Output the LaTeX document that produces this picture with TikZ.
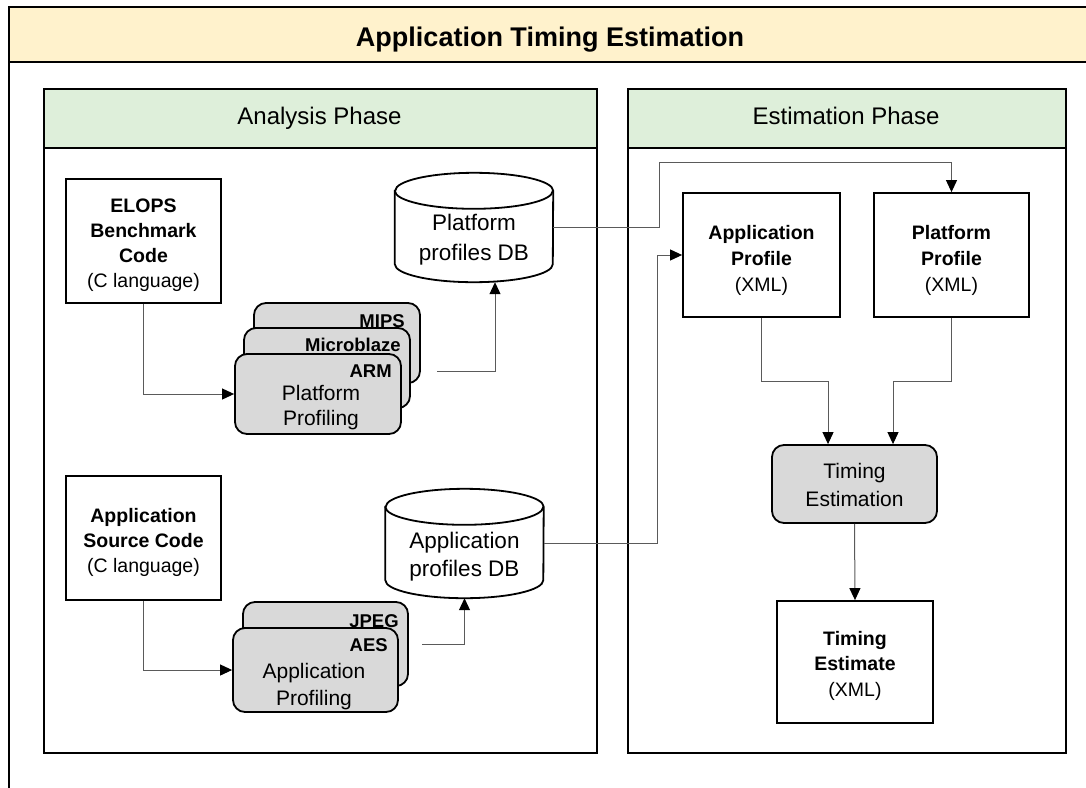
\documentclass[tikz,border=0pt]{standalone}
\usepackage{fontspec}
\setmainfont{Liberation Sans}
\usetikzlibrary{arrows.meta,calc}
\definecolor{bannerfill}{HTML}{FFF2CC}
\definecolor{hdrfill}{HTML}{DEEFDA}
\definecolor{procfill}{HTML}{D9D9D9}
\definecolor{wirecol}{HTML}{5A5A5A}
\newcommand\dbcylinder[1]{%
  \draw[line width=1.8pt, fill=white]
    ($(#1.north west)+(0,18)$) -- ($(#1.south west)+(0,-18)$)
    arc[start angle=180, end angle=0, x radius=79, y radius=18]
    -- ($(#1.north east)+(0,18)$)
    arc[start angle=0, end angle=-180, x radius=79, y radius=18] -- cycle;
  \draw[line width=1.8pt]
    ($(#1.north west)+(0,18)$)
    arc[start angle=180, end angle=0, x radius=79, y radius=18];
}
\begin{document}
\begin{tikzpicture}[x=1pt,y=-1pt,
  panel/.style={draw=black, line width=2pt, fill=white, inner sep=0pt, anchor=north west},
  hdr/.style={draw=black, line width=2pt, fill=hdrfill, inner sep=0pt, anchor=north west,
    minimum height=59pt},
  hdrtxt/.style={inner sep=0pt, anchor=base, font=\fontsize{24}{28}\selectfont},
  box/.style={draw=black, line width=1.8pt, fill=white, inner sep=0pt, align=center},
  procbox/.style={box, fill=procfill, rounded corners=12pt},
  lbl/.style={inner sep=0pt, align=center},
  tag/.style={inner sep=0pt, anchor=east, font=\fontsize{18.5}{22}\selectfont\bfseries},
  dbslot/.style={inner sep=0pt, minimum width=158pt, minimum height=109pt},
  wire/.style={draw=wirecol, line width=1pt, -{Triangle[length=12pt, width=11pt, color=black]}},
]
\useasboundingbox (0,0) rectangle (1086,787);

% banner
\fill[bannerfill] (9,7) rectangle (1090,62);
\draw[line width=2pt] (1090,7) -- (9,7) -- (9,792);
\draw[line width=2pt] (9,62) -- (1090,62);
\node[inner sep=0pt, anchor=base, font=\fontsize{27}{32}\selectfont\bfseries] (title) at (550,46) {Application Timing Estimation};

% panels
\node[panel, minimum width=553pt, minimum height=664pt] (ana) at (43,88) {};
\node[hdr, minimum width=553pt] (anahdr) at (43,88) {};
\node[hdrtxt] (anatxt) at (319.5,124.5) {Analysis Phase};
\node[panel, minimum width=438pt, minimum height=664pt] (est) at (627,88) {};
\node[hdr, minimum width=438pt] (esthdr) at (627,88) {};
\node[hdrtxt] (esttxt) at (846,124.5) {Estimation Phase};

% analysis: sources
\node[box, minimum width=155pt, minimum height=124pt] (elops) at (143.5,241) {};
\node[lbl, font=\fontsize{19.5}{25}\selectfont] (elopstxt) at ($(elops.center)+(0,4)$)
  {\textbf{ELOPS}\\\textbf{Benchmark}\\\textbf{Code}\\(C language)};
\node[box, minimum width=155pt, minimum height=124pt] (src) at (143.5,538) {};
\node[lbl, font=\fontsize{19.5}{25}\selectfont] (srctxt) at ($(src.center)+(0,4)$)
  {\textbf{Application}\\\textbf{Source Code}\\(C language)};

% platform profiling stack
\node[procbox, minimum width=166pt, minimum height=80pt] (pmips) at (337,343) {};
\node[tag] (tmips) at ($(pmips.north east)+(-16,19)$) {MIPS};
\node[procbox, minimum width=166pt, minimum height=80pt] (pmb) at (327,368) {};
\node[tag] (tmb) at ($(pmb.north east)+(-10,18)$) {Microblaze};
\node[procbox, minimum width=166pt, minimum height=80pt] (parm) at (318,394) {};
\node[tag] (tarm) at ($(parm.north east)+(-10,18)$) {ARM};
\node[lbl, font=\fontsize{21}{25}\selectfont] (ptxt) at (321,407.5) {Platform\\Profiling};

% application profiling stack
\node[procbox, minimum width=165pt, minimum height=84pt] (pjpeg) at (325.5,644) {};
\node[tag] (tjpeg) at ($(pjpeg.north east)+(-10,20)$) {JPEG};
\node[procbox, minimum width=165pt, minimum height=84pt] (paes) at (315.5,670) {};
\node[tag] (taes) at ($(paes.north east)+(-11,18)$) {AES};
\node[lbl, font=\fontsize{21}{27}\selectfont] (atxt) at (314,686.5) {Application\\Profiling};

% databases
\node[dbslot] (pdb) at (474,227.5) {};
\dbcylinder{pdb}
\node[lbl, font=\fontsize{22.5}{30}\selectfont] (pdbtxt) at ($(pdb.center)+(0,12.5)$) {Platform\\profiles DB};
\node[dbslot] (adb) at (464.5,543.5) {};
\dbcylinder{adb}
\node[lbl, font=\fontsize{22.5}{28}\selectfont] (adbtxt) at ($(adb.center)+(0,13.5)$) {Application\\profiles DB};

% estimation phase
\node[box, minimum width=157pt, minimum height=124pt] (aprof) at (761.5,255) {};
\node[lbl, font=\fontsize{19.5}{26}\selectfont] (aproftxt) at ($(aprof.center)+(0,5)$)
  {\textbf{Application}\\\textbf{Profile}\\(XML)};
\node[box, minimum width=155pt, minimum height=124pt] (pprof) at (951.5,255) {};
\node[lbl, font=\fontsize{19.5}{26}\selectfont] (pproftxt) at ($(pprof.center)+(0,5)$)
  {\textbf{Platform}\\\textbf{Profile}\\(XML)};
\node[procbox, minimum width=165pt, minimum height=78pt] (te) at (854.5,484) {};
\node[lbl, font=\fontsize{21}{28}\selectfont] (tetxt) at ($(te.center)+(0,1)$) {Timing\\Estimation};
\node[box, minimum width=156pt, minimum height=122pt] (test) at (855,662) {};
\node[lbl, font=\fontsize{19.5}{25.5}\selectfont] (testtxt) at ($(test.center)+(0,3.5)$)
  {\textbf{Timing}\\\textbf{Estimate}\\(XML)};

% connectors
\coordinate (pout) at (437,371);
\coordinate (aout) at (422,644);
\draw[wire] (elops.south) |- (parm.west);
\draw[wire] (src.south) |- (paes.west);
\draw[wire] (pout) -| ($(pdb.south)+(21,0)$);
\draw[wire] (aout) -| (adb.south);
\draw[wire] (pdb.east) -| (659,162) -| (pprof.north);
\draw[wire] (adb.east) -| ($(aprof.west)+(-25,0)$) -- (aprof.west);
\draw[wire] (aprof.south) -- ++(0,64) -| ($(te.north)+(-26.5,0)$);
\draw[wire] (pprof.south) -- ++(0,64) -| ($(te.north)+(38.5,0)$);
\draw[wire] (te.south) -- (test.north);
\end{tikzpicture}
\end{document}
